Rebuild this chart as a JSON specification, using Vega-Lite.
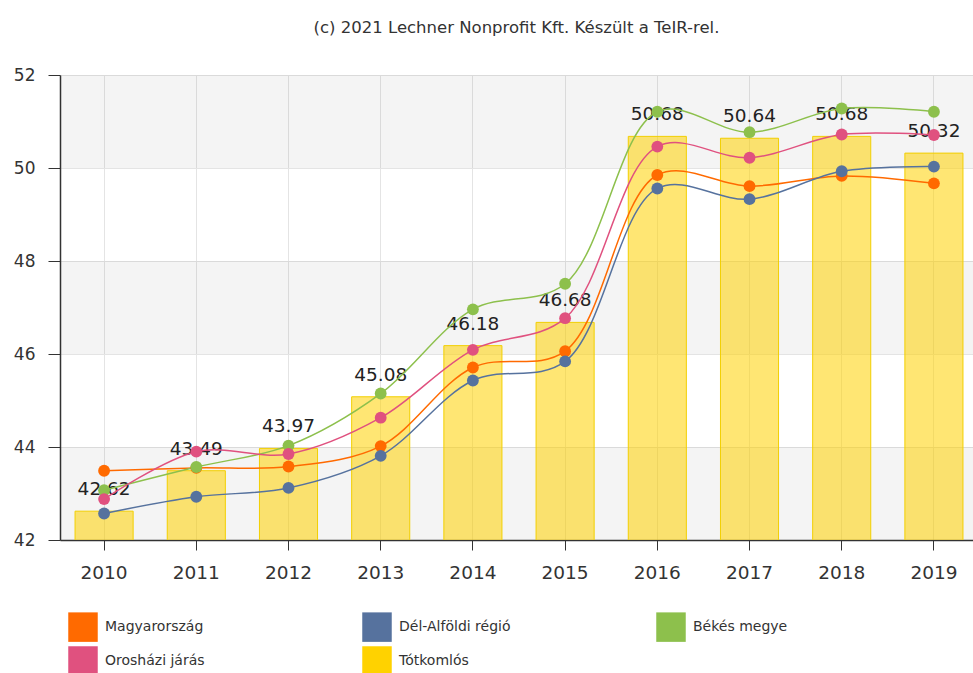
{
  "$schema": "https://vega.github.io/schema/vega-lite/v6.json",
  "autosize": "none",
  "width": 913,
  "height": 465,
  "padding": {"left": 60, "top": 75, "right": 0, "bottom": 133},
  "background": "white",
  "title": {
    "text": "(c) 2021 Lechner Nonprofit Kft. Készült a TeIR-rel.",
    "font": "DejaVu Sans",
    "fontSize": 16.5,
    "fontWeight": "normal",
    "color": "#333333",
    "anchor": "middle",
    "baseline": "bottom",
    "offset": 14
  },
  "config": {
    "view": {"stroke": null},
    "font": "DejaVu Sans"
  },
  "datasets": {
    "series": [
      {"year": "2010", "series": "Magyarország", "value": 43.49},
      {"year": "2011", "series": "Magyarország", "value": 43.55},
      {"year": "2012", "series": "Magyarország", "value": 43.58},
      {"year": "2013", "series": "Magyarország", "value": 44.02},
      {"year": "2014", "series": "Magyarország", "value": 45.71},
      {"year": "2015", "series": "Magyarország", "value": 46.06},
      {"year": "2016", "series": "Magyarország", "value": 49.85},
      {"year": "2017", "series": "Magyarország", "value": 49.61},
      {"year": "2018", "series": "Magyarország", "value": 49.83},
      {"year": "2019", "series": "Magyarország", "value": 49.67},
      {"year": "2010", "series": "Dél-Alföldi régió", "value": 42.57},
      {"year": "2011", "series": "Dél-Alföldi régió", "value": 42.93},
      {"year": "2012", "series": "Dél-Alföldi régió", "value": 43.12},
      {"year": "2013", "series": "Dél-Alföldi régió", "value": 43.81},
      {"year": "2014", "series": "Dél-Alföldi régió", "value": 45.43},
      {"year": "2015", "series": "Dél-Alföldi régió", "value": 45.84},
      {"year": "2016", "series": "Dél-Alföldi régió", "value": 49.56},
      {"year": "2017", "series": "Dél-Alföldi régió", "value": 49.33},
      {"year": "2018", "series": "Dél-Alföldi régió", "value": 49.93},
      {"year": "2019", "series": "Dél-Alföldi régió", "value": 50.03},
      {"year": "2010", "series": "Békés megye", "value": 43.07},
      {"year": "2011", "series": "Békés megye", "value": 43.57},
      {"year": "2012", "series": "Békés megye", "value": 44.03},
      {"year": "2013", "series": "Békés megye", "value": 45.15},
      {"year": "2014", "series": "Békés megye", "value": 46.96},
      {"year": "2015", "series": "Békés megye", "value": 47.51},
      {"year": "2016", "series": "Békés megye", "value": 51.21},
      {"year": "2017", "series": "Békés megye", "value": 50.77},
      {"year": "2018", "series": "Békés megye", "value": 51.28},
      {"year": "2019", "series": "Békés megye", "value": 51.21},
      {"year": "2010", "series": "Orosházi járás", "value": 42.88},
      {"year": "2011", "series": "Orosházi járás", "value": 43.9},
      {"year": "2012", "series": "Orosházi járás", "value": 43.85},
      {"year": "2013", "series": "Orosházi járás", "value": 44.63},
      {"year": "2014", "series": "Orosházi járás", "value": 46.09},
      {"year": "2015", "series": "Orosházi járás", "value": 46.77},
      {"year": "2016", "series": "Orosházi járás", "value": 50.46},
      {"year": "2017", "series": "Orosházi járás", "value": 50.22},
      {"year": "2018", "series": "Orosházi járás", "value": 50.72},
      {"year": "2019", "series": "Orosházi járás", "value": 50.71},
      {"year": "2010", "series": "Tótkomlós", "value": 42.62},
      {"year": "2011", "series": "Tótkomlós", "value": 43.49},
      {"year": "2012", "series": "Tótkomlós", "value": 43.97},
      {"year": "2013", "series": "Tótkomlós", "value": 45.08},
      {"year": "2014", "series": "Tótkomlós", "value": 46.18},
      {"year": "2015", "series": "Tótkomlós", "value": 46.68},
      {"year": "2016", "series": "Tótkomlós", "value": 50.68},
      {"year": "2017", "series": "Tótkomlós", "value": 50.64},
      {"year": "2018", "series": "Tótkomlós", "value": 50.68},
      {"year": "2019", "series": "Tótkomlós", "value": 50.32}
    ],
    "bands": [
      {"lo": 42, "hi": 44},
      {"lo": 46, "hi": 48},
      {"lo": 50, "hi": 52}
    ]
  },
  "layer": [
    {
      "data": {"name": "bands"},
      "mark": {"type": "rect", "color": "#000000", "opacity": 0.045},
      "encoding": {
        "y": {
          "field": "lo",
          "type": "quantitative",
          "title": null,
          "scale": {"domain": [42, 52], "nice": false, "zero": false},
          "axis": {
            "values": [42, 44, 46, 48, 50, 52],
            "labelFont": "DejaVu Sans",
            "labelFontSize": 17,
            "labelColor": "#333333",
            "labelPadding": 13,
            "tickSize": 12,
            "tickColor": "#333333",
            "domainColor": "#333333",
            "domainWidth": 1.5,
            "gridColor": "#e4e4e4"
          }
        },
        "y2": {"field": "hi"}
      }
    },
    {
      "data": {"name": "series"},
      "encoding": {
        "x": {
          "field": "year",
          "type": "nominal",
          "title": null,
          "scale": {"paddingInner": 0.37, "paddingOuter": 0.136, "align": 0.6},
          "axis": {
            "labelAngle": 0,
            "labelFont": "DejaVu Sans",
            "labelFontSize": 18.5,
            "labelColor": "#333333",
            "labelPadding": 13,
            "tickSize": 10,
            "tickColor": "#333333",
            "domainColor": "#333333",
            "domainWidth": 1.5,
            "grid": true,
            "gridColor": "#e4e4e4",
            "bandPosition": 0.5
          }
        },
        "y": {"field": "value", "type": "quantitative"}
      },
      "layer": [
        {
          "transform": [{"filter": "datum.series === 'Tótkomlós'"}],
          "mark": {"type": "bar", "fillOpacity": 0.55, "stroke": "#f2cf00", "strokeWidth": 1, "clip": true},
          "encoding": {
            "color": {
              "field": "series",
              "type": "nominal",
              "scale": {
                "domain": ["Magyarország", "Dél-Alföldi régió", "Békés megye", "Orosházi járás", "Tótkomlós"],
                "range": ["#ff6a00", "#56729e", "#8dc04c", "#e0517f", "#ffd200"]
              },
              "legend": {
                "title": null,
                "orient": "none",
                "legendX": 8,
                "legendY": 537,
                "direction": "horizontal",
                "columns": 3,
                "gridAlign": "all",
                "columnPadding": 145,
                "rowPadding": 4,
                "padding": 0,
                "symbolType": "square",
                "symbolSize": 870,
                "symbolOpacity": 1,
                "symbolStrokeWidth": 0,
                "labelFont": "DejaVu Sans",
                "labelFontSize": 14,
                "labelColor": "#333333",
                "labelOffset": 7
              }
            }
          }
        },
        {
          "transform": [{"filter": "datum.series === 'Tótkomlós'"}],
          "mark": {"type": "text", "dy": -22, "baseline": "middle", "fontSize": 18.5, "color": "#222222", "font": "DejaVu Sans"},
          "encoding": {
            "text": {"field": "value", "type": "quantitative", "format": ".2f"}
          }
        },
        {
          "transform": [{"filter": "datum.series !== 'Tótkomlós'"}],
          "mark": {"type": "line", "interpolate": "catmull-rom", "strokeWidth": 1.5},
          "encoding": {
            "color": {"field": "series", "type": "nominal"}
          }
        },
        {
          "transform": [{"filter": "datum.series !== 'Tótkomlós'"}],
          "mark": {"type": "circle", "size": 140, "opacity": 1},
          "encoding": {
            "color": {"field": "series", "type": "nominal"}
          }
        }
      ]
    }
  ]
}
